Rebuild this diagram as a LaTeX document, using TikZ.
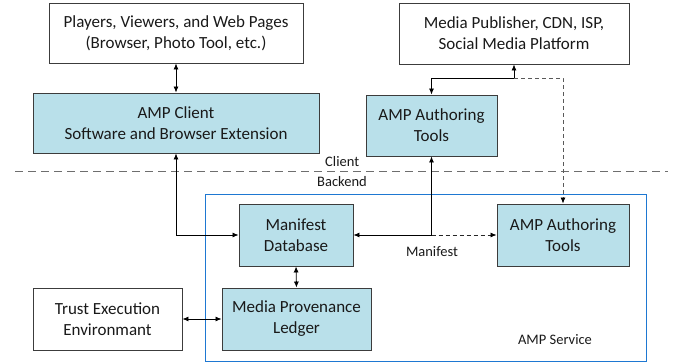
\documentclass[tikz,border=0pt]{standalone}
\usepackage{fontspec}
\setmainfont{Carlito}
\usetikzlibrary{arrows.meta,calc}
\definecolor{boxfill}{RGB}{185,224,234}
\definecolor{svcblue}{RGB}{30,120,210}
\definecolor{sepgray}{RGB}{110,110,110}
\definecolor{edgegray}{RGB}{60,60,60}
\begin{document}
\begin{tikzpicture}[x=1pt,y=-1pt,
  box/.style={draw=edgegray,line width=0.9pt,rectangle,inner sep=0pt,align=center,
    font=\fontsize{17}{21}\selectfont,text=black!90},
  bluebox/.style={box,fill=boxfill},
  lab/.style={font=\fontsize{14.5}{17}\selectfont,text=black!90,inner sep=0pt},
  conn/.style={line width=0.8pt,black,{Latex[length=6pt,width=5pt]}-{Latex[length=6pt,width=5pt]}},
  dconn/.style={line width=0.8pt,black!65,dash pattern=on 4pt off 3pt,-{Latex[length=6pt,width=5pt,black]}},
]
\useasboundingbox (0,0) rectangle (683,364);
% AMP service container
\node[draw=svcblue,line width=1pt,rectangle,inner sep=0pt,minimum width=441pt,minimum height=167pt] (svc) at (425.5,277.5) {};
% nodes
\node[box,minimum width=254pt,minimum height=60pt] (play) at (176,33) {Players, Viewers, and Web Pages\\(Browser, Photo Tool, etc.)};
\node[bluebox,minimum width=286pt,minimum height=60pt] (client) at (176,123) {AMP Client\\Software and Browser Extension};
\node[box,minimum width=230pt,minimum height=61pt] (mp) at (514,33.5) {Media Publisher, CDN, ISP,\\Social Media Platform};
\node[bluebox,minimum width=131pt,minimum height=61pt] (auth1) at (431.5,125.5) {AMP Authoring\\Tools};
\node[bluebox,minimum width=114pt,minimum height=62pt] (mdb) at (296,235) {Manifest\\Database};
\node[bluebox,minimum width=132pt,minimum height=62pt] (auth2) at (563,235) {AMP Authoring\\Tools};
\node[bluebox,minimum width=149pt,minimum height=62pt] (led) at (296.5,319) {Media Provenance\\Ledger};
\node[box,minimum width=149pt,minimum height=62pt] (tee) at (107.5,319) {Trust Execution\\Environmant};
% separator
\coordinate (sepL) at (15,171);
\coordinate (sepR) at (668,171);
\draw[sepgray,line width=0.9pt,dash pattern=on 8pt off 5pt] (sepL) -- (sepR);
\node[lab,anchor=west] (lclient) at (325,162) {Client};
\node[lab,anchor=west] (lback) at (317,182) {Backend};
% connectors
\draw[conn] (play.south) -- (client.north);
\draw[conn] (client.south) |- (mdb.west);
\coordinate (j1) at (auth1.south |- mdb.east);
\draw[conn] (auth1.south) |- (mdb.east);
\draw[dconn,black!85] (j1) -- (auth2.west);
\coordinate (j2) at (514,78);
\draw[conn] (mp.south) -- (j2) -| (auth1.north);
\draw[dconn] (j2) -| (auth2.north);
\draw[conn] (mdb.south) -- (led.north);
\draw[conn] (tee.east) -- (led.west);
\node[lab] (lman) at (432,252) {Manifest};
\node[lab] (lsvc) at (555,340) {AMP Service};
\end{tikzpicture}
\end{document}
